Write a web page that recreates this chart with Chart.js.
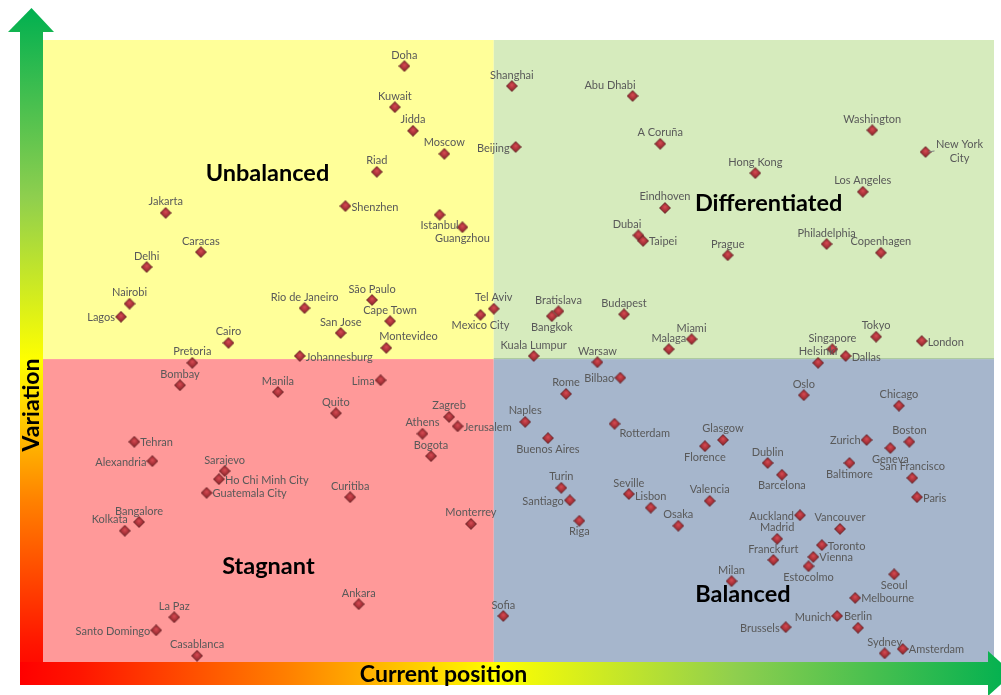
<!DOCTYPE html>
<html lang="en">
<head>
  <meta charset="UTF-8">
  <title>Current position vs Variation</title>
  <script src="https://cdn.jsdelivr.net/npm/chart.js"></script>
  <style>
    body { margin: 0; background: #fff; }
  </style>
</head>
<body>
  <canvas id="matrix" width="1001" height="695"></canvas>

  <script>
    // Cities and their scores (0-100 on both axes)
    const cities = [
      'Doha', 'Kuwait', 'Jidda', 'Moscow', 'Riad', 'Shanghai', 'Beijing', 'Abu Dhabi', 'A Coruña', 'Washington',
      'New York City', 'Hong Kong', 'Los Angeles', 'Jakarta', 'Shenzhen', 'Istanbul', 'Guangzhou', 'Caracas', 'Delhi', 'Nairobi',
      'Lagos', 'Rio de Janeiro', 'São Paulo', 'Cape Town', 'San Jose', 'Montevideo', 'Tel Aviv', 'Mexico City', 'Cairo', 'Pretoria',
      'Johannesburg', 'Bombay', 'Eindhoven', 'Dubai', 'Taipei', 'Prague', 'Philadelphia', 'Copenhagen', 'Bratislava', 'Bangkok',
      'Budapest', 'Malaga', 'Miami', 'Kuala Lumpur', 'Warsaw', 'Tokyo', 'Singapore', 'London', 'Helsinki', 'Dallas',
      'Manila', 'Lima', 'Quito', 'Zagreb', 'Jerusalem', 'Athens', 'Bogota', 'Tehran', 'Alexandria', 'Sarajevo',
      'Ho Chi Minh City', 'Guatemala City', 'Curitiba', 'Bangalore', 'Kolkata', 'Monterrey', 'Bilbao', 'Rome', 'Oslo', 'Chicago',
      'Naples', 'Rotterdam', 'Buenos Aires', 'Glasgow', 'Florence', 'Zurich', 'Boston', 'Geneva', 'Dublin', 'Barcelona',
      'Baltimore', 'San Francisco', 'Paris', 'Turin', 'Santiago', 'Seville', 'Lisbon', 'Valencia', 'Riga', 'Osaka',
      'Auckland', 'Vancouver', 'Madrid', 'Toronto', 'Franckfurt', 'Vienna', 'Estocolmo', 'Seoul', 'Milan', 'Melbourne',
      'Munich', 'Berlin', 'Brussels', 'Sydney', 'Amsterdam', 'Sofia', 'Ankara', 'La Paz', 'Santo Domingo', 'Casablanca'
    ];

    const currentPosition = [
      38.0, 37.0, 38.9, 42.2, 35.1, 49.3, 49.7, 62.0, 64.9, 87.2,
      92.8, 74.9, 86.2, 12.9, 31.8, 41.7, 44.1, 16.6, 10.9, 9.1,
      8.2, 27.5, 34.6, 36.5, 31.3, 36.1, 47.4, 46.0, 19.5, 15.7,
      27.0, 14.4, 65.4, 62.6, 63.1, 72.0, 82.4, 88.1, 54.2, 53.5,
      61.1, 65.8, 68.2, 51.6, 58.3, 87.6, 83.0, 92.4, 81.5, 84.4,
      24.7, 35.5, 30.8, 42.7, 43.6, 39.9, 40.8, 9.6, 11.5, 19.1,
      18.5, 17.2, 32.3, 10.1, 8.6, 45.0, 60.7, 55.0, 80.0, 90.0,
      50.7, 60.1, 53.1, 71.5, 69.6, 86.6, 91.1, 89.1, 76.2, 77.7,
      84.8, 91.4, 91.9, 54.5, 55.4, 61.6, 63.9, 70.1, 56.4, 66.8,
      79.6, 83.8, 77.2, 81.9, 76.8, 81.0, 80.5, 89.5, 72.4, 85.4,
      83.5, 85.7, 78.1, 88.5, 90.4, 48.4, 33.2, 13.8, 11.9, 16.2
    ];

    const variation = [
      95.8, 89.2, 85.4, 81.7, 78.8, 92.6, 82.8, 91.0, 83.3, 85.5,
      82.0, 78.6, 75.6, 72.2, 73.3, 71.9, 69.9, 65.9, 63.5, 57.6,
      55.5, 56.9, 58.2, 54.8, 52.9, 50.5, 56.8, 55.8, 51.3, 48.1,
      49.2, 44.5, 73.0, 68.6, 67.7, 65.4, 67.2, 65.8, 56.4, 55.6,
      55.9, 50.3, 51.9, 49.2, 48.2, 52.3, 50.3, 51.6, 48.1, 49.2,
      43.4, 45.3, 40.0, 39.4, 37.9, 36.7, 33.1, 35.4, 32.3, 30.7,
      29.4, 27.2, 26.5, 22.5, 21.1, 22.2, 45.7, 43.1, 42.9, 41.2,
      38.6, 38.3, 36.0, 35.7, 34.7, 35.7, 35.4, 34.4, 32.0, 30.1,
      32.0, 29.6, 26.5, 28.0, 26.0, 27.0, 24.8, 25.9, 22.7, 21.9,
      23.6, 21.4, 19.8, 18.8, 16.4, 16.9, 15.4, 14.1, 13.0, 10.3,
      7.4, 5.5, 5.6, 1.4, 2.1, 7.4, 9.3, 7.2, 5.1, 1.0
    ];

    // quadrant split values and names
    const splitX = 47.4;
    const splitY = 48.7;
    const quadrants = [
      { name: 'Unbalanced', x: 23.6, y: 78.6 },
      { name: 'Differentiated', x: 76.3, y: 73.8 },
      { name: 'Stagnant', x: 23.7, y: 15.4 },
      { name: 'Balanced', x: 73.6, y: 10.8 }
    ];

    // where each city label sits relative to its marker
    const labelSide = [
      'N', 'N', 'N', 'N', 'N', 'N', 'W', 'NW', 'N', 'N',
      'NYC', 'N', 'N', 'N', 'E', 'S', 'S', 'N', 'N', 'N',
      'W', 'N', 'N', 'N', 'N', 'NE', 'N', 'S', 'N', 'N',
      'E', 'N', 'N', 'NW', 'E', 'N', 'N', 'N', 'N', 'S',
      'N', 'N', 'N', 'N', 'N', 'N', 'N', 'E', 'N', 'E',
      'N', 'W', 'N', 'N', 'E', 'N', 'N', 'E', 'W', 'N',
      'E', 'E', 'N', 'N', 'NW', 'N', 'W', 'N', 'N', 'N',
      'N', 'SE', 'S', 'N', 'S', 'W', 'N', 'S', 'N', 'S',
      'S', 'N', 'E', 'N', 'W', 'N', 'N', 'N', 'S', 'N',
      'W', 'N', 'N', 'E', 'N', 'E', 'S', 'S', 'N', 'E',
      'W', 'N', 'W', 'N', 'E', 'N', 'N', 'N', 'W', 'N'
    ];

    const points = cities.map((c, i) => ({ x: currentPosition[i], y: variation[i] }));

    // small shaded diamond used as the point style
    function makeDiamond() {
      const s = 12, c = s / 2;
      const cv = document.createElement('canvas');
      cv.width = s; cv.height = s;
      const g = cv.getContext('2d');
      const rg = g.createRadialGradient(c, c - 1, 0.5, c, c, c);
      rg.addColorStop(0, '#D24850');
      rg.addColorStop(0.55, '#A32F36');
      rg.addColorStop(1, '#6E1E23');
      g.fillStyle = rg;
      g.beginPath();
      g.moveTo(c, 0.5);
      g.lineTo(s - 0.5, c);
      g.lineTo(c, s - 0.5);
      g.lineTo(0.5, c);
      g.closePath();
      g.fill();
      g.strokeStyle = 'rgba(90, 26, 30, 0.85)';
      g.lineWidth = 0.8;
      g.stroke();
      return cv;
    }

    // gradient used by both axis arrows
    function addStops(g) {
      g.addColorStop(0, '#FF0000');
      g.addColorStop(0.06, '#FF1500');
      g.addColorStop(0.27, '#FF8000');
      g.addColorStop(0.48, '#FFFF00');
      g.addColorStop(0.72, '#8FCF4E');
      g.addColorStop(1, '#00B050');
      return g;
    }

    const quadrantPlugin = {
      id: 'quadrants',
      beforeDatasetsDraw(chart) {
        const { ctx, chartArea: a, scales } = chart;
        const mx = scales.x.getPixelForValue(splitX);
        const my = scales.y.getPixelForValue(splitY);
        ctx.save();
        ctx.fillStyle = '#FFFF99';
        ctx.fillRect(a.left, a.top, mx - a.left, my - a.top);
        ctx.fillStyle = '#D6EBBD';
        ctx.fillRect(mx, a.top, a.right - mx, my - a.top);
        ctx.fillStyle = '#FF9999';
        ctx.fillRect(a.left, my, mx - a.left, a.bottom - my);
        ctx.fillStyle = '#A6B6CC';
        ctx.fillRect(mx, my, a.right - mx, a.bottom - my);
        ctx.fillStyle = '#A9C79C';
        ctx.fillRect(mx, my - 1, a.right - mx, 1);

        // vertical arrow (Variation)
        let g = addStops(ctx.createLinearGradient(0, a.bottom + 23, 0, a.top - 32));
        ctx.fillStyle = g;
        ctx.fillRect(a.left - 23, a.top - 9, 23, a.bottom - a.top + 32);
        ctx.beginPath();
        ctx.moveTo(a.left - 35, a.top - 8);
        ctx.lineTo(a.left + 11, a.top - 8);
        ctx.lineTo(a.left - 11.5, a.top - 32);
        ctx.closePath();
        ctx.fill();

        // horizontal arrow (Current position)
        g = addStops(ctx.createLinearGradient(a.left - 23, 0, a.right + 19, 0));
        ctx.fillStyle = g;
        ctx.fillRect(a.left - 23, a.bottom, a.right - a.left + 18, 23);
        ctx.beginPath();
        ctx.moveTo(a.right - 6, a.bottom - 11);
        ctx.lineTo(a.right - 6, a.bottom + 34);
        ctx.lineTo(a.right + 19, a.bottom + 11.5);
        ctx.closePath();
        ctx.fill();
        ctx.restore();
      },
      afterDatasetsDraw(chart) {
        const { ctx, chartArea: a, scales } = chart;
        ctx.save();

        // city labels
        ctx.font = '11px Lato, "Open Sans", sans-serif';
        ctx.fillStyle = '#595959';
        ctx.textBaseline = 'middle';
        const meta = chart.getDatasetMeta(0);
        meta.data.forEach((pt, i) => {
          const { x, y } = pt.getProps(['x', 'y']);
          const side = labelSide[i];
          const name = cities[i];
          if (side === 'NYC') {
            ctx.strokeStyle = '#7F7F7F';
            ctx.lineWidth = 1;
            ctx.beginPath();
            ctx.moveTo(x + 3, y);
            ctx.lineTo(x + 9, y - 1);
            ctx.stroke();
            const parts = name.split(' ');
            ctx.textAlign = 'center';
            ctx.fillText(parts[0] + ' ' + parts[1], x + 34, y - 8);
            ctx.fillText(parts[2], x + 34, y + 6);
            return;
          }
          let tx = x, ty = y;
          if (side === 'N') { ctx.textAlign = 'center'; ty = y - 11; }
          else if (side === 'S') { ctx.textAlign = 'center'; ty = y + 11; }
          else if (side === 'E') { ctx.textAlign = 'left'; tx = x + 6; ty = y + 1; }
          else if (side === 'W') { ctx.textAlign = 'right'; tx = x - 6; ty = y + 1; }
          else if (side === 'NW') { ctx.textAlign = 'right'; tx = x + 3; ty = y - 11; }
          else if (side === 'NE') { ctx.textAlign = 'left'; tx = x - 7; ty = y - 11; }
          else if (side === 'SE') { ctx.textAlign = 'left'; tx = x + 5; ty = y + 10; }
          ctx.fillText(name, tx, ty);
        });

        // quadrant names
        ctx.font = 'bold 23.5px Lato, "Open Sans", sans-serif';
        ctx.fillStyle = '#000';
        ctx.textAlign = 'center';
        quadrants.forEach(q => {
          ctx.fillText(q.name, scales.x.getPixelForValue(q.x), scales.y.getPixelForValue(q.y));
        });

        // axis titles
        ctx.font = 'bold 23px Lato, "Open Sans", sans-serif';
        ctx.fillText('Current position', (a.left + a.right) / 2 - 75, a.bottom + 13);
        ctx.translate(a.left - 11, 405);
        ctx.rotate(-Math.PI / 2);
        ctx.fillText('Variation', 0, 0);
        ctx.restore();
      }
    };

    const config = {
      type: 'scatter',
      data: {
        labels: cities,
        datasets: [{
          label: 'Cities',
          data: points,
          pointStyle: makeDiamond(),
          pointRadius: 6,
          pointHoverRadius: 6,
          clip: false
        }]
      },
      options: {
        responsive: false,
        animation: false,
        layout: { padding: { left: 43, top: 40, right: 7, bottom: 33 } },
        scales: {
          x: { type: 'linear', min: 0, max: 100, display: false },
          y: { type: 'linear', min: 0, max: 100, display: false }
        },
        plugins: {
          legend: { display: false },
          tooltip: { enabled: false }
        }
      },
      plugins: [quadrantPlugin]
    };

    const ctx = document.getElementById('matrix').getContext('2d');
    new Chart(ctx, config);
  </script>
</body>
</html>
